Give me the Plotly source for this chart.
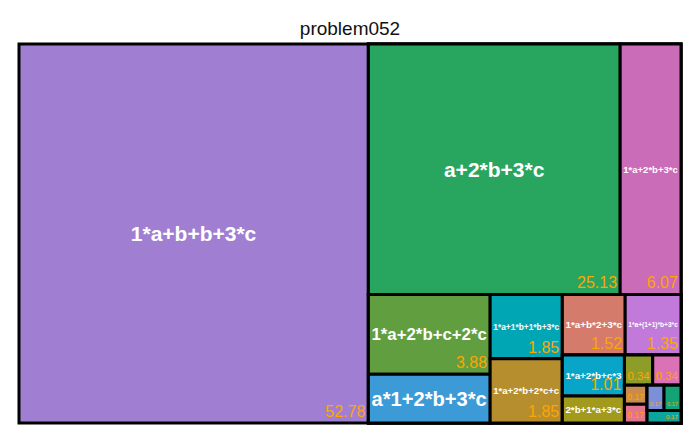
import plotly.graph_objects as go

# ---- data -------------------------------------------------------------
# leaf labels (expressions) and their shares (%)
labels = [
    "1*a+b+b+3*c", "a+2*b+3*c", "1*a+2*b+3*c",
    "1*a+2*b+c+2*c", "a*1+2*b+3*c",
    "1*a+1*b+1*b+3*c", "1*a+2*b+2*c+c",
    "1*a+b*2+3*c", "1*a+(1+1)*b+3*c",
    "1*a+2*b+c*3", "2*b+1*a+3*c",
    "other 1", "other 2",
    "other 3", "other 4",
    "other 5", "other 6",
    "other 7",
]
values = [
    52.78, 25.13, 6.07,
    3.88, 2.36,
    1.85, 1.85,
    1.52, 1.35,
    1.01, 0.67,
    0.34, 0.34,
    0.17, 0.17,
    0.17, 0.17,
    0.17,
]
# invisible layout groups (nesting that reproduces the reference tiling)
leaf_group = [
    "", "gB1", "gB1",
    "gC1", "gC1",
    "gC2", "gC2",
    "gD1", "gD1",
    "gE1", "gE1",
    "gF1", "gF1",
    "gG1", "gG1",
    "gH1", "gH1",
    "gG2",
]
groups = ["gB", "gB1", "gB2", "gC1", "gC2", "gC3", "gD1", "gD2",
          "gE1", "gE2", "gF1", "gF2", "gG1", "gG2", "gH1"]
group_parent = ["", "gB", "gB", "gB2", "gB2", "gB2", "gC3", "gC3",
                "gD2", "gD2", "gE2", "gE2", "gF2", "gF2", "gG2"]

# leaves whose label / value text is not printed in the reference
show_label = [True] * 11 + [False] * 7
show_value = [True, True, True, True, False, True, True, True, True, True,
              False] + [True] * 7

leaf_colors = [
    "#A07FD3", "#28A55F", "#CA6CB8",
    "#609E40", "#3C9AD6",
    "#00A6B4", "#B68E2E",
    "#D47B6B", "#C27ADA",
    "#08A5C8", "#A29A1C",
    "#8E9D27", "#DB72B5",
    "#C98C4D", "#E3738E",
    "#7C90DA", "#14A377",
    "#0DA59C",
]

# ---- build ------------------------------------------------------------
n = len(labels)
leaf_nodes = [
    dict(id="leaf%d" % i, label=labels[i], parent=leaf_group[i], value=values[i],
         color=leaf_colors[i],
         ltpl="%{label}" if show_label[i] else "",
         vtpl="%{value:.2f}" if show_value[i] else "")
    for i in range(n)
]
group_nodes = [
    dict(id=g, label="", parent=p, value=0, color="#000000", ltpl="", vtpl="")
    for g, p in zip(groups, group_parent)
]
# sibling order follows node order: the last leaf must come after group gH1
nodes = leaf_nodes[:-1] + group_nodes + leaf_nodes[-1:]

ids = [d["id"] for d in nodes]
all_labels = [d["label"] for d in nodes]
parents = [d["parent"] for d in nodes]
vals = [d["value"] for d in nodes]
colors = [d["color"] for d in nodes]
label_tpl = [d["ltpl"] for d in nodes]
value_tpl = [d["vtpl"] for d in nodes]

font_family = "Liberation Sans, Arial, sans-serif"
common = dict(
    ids=ids, labels=all_labels, parents=parents, values=vals,
    branchvalues="remainder", sort=False,
    tiling=dict(packing="slice-dice", pad=0),
    pathbar=dict(visible=False),
    root=dict(color="rgba(0,0,0,0)"),
)

fig = go.Figure()
fig.add_trace(go.Treemap(
    **common,
    marker=dict(colors=colors,
                line=dict(color="#000000", width=3),
                pad=dict(t=0, l=0, r=0, b=0)),
    texttemplate=label_tpl,
    textposition="middle center",
    textfont=dict(family=font_family, size=21, color="white", weight="bold"),
    hovertemplate="%{label}<br>%{value:.2f}<extra></extra>",
))
fig.add_trace(go.Treemap(
    **common,
    marker=dict(colors=["rgba(0,0,0,0)"] * len(ids),
                line=dict(color="rgba(0,0,0,0)", width=0),
                pad=dict(t=0, l=0, r=0, b=0)),
    texttemplate=value_tpl,
    textposition="bottom right",
    textfont=dict(family=font_family, size=16, color="#FFA500"),
    hoverinfo="skip",
))

fig.update_layout(
    width=700, height=433,
    margin=dict(l=19, r=19, t=44, b=10),
    paper_bgcolor="white",
    title=dict(text="problem052", x=0.5, xanchor="center",
               y=1 - 28 / 433, yanchor="middle",
               font=dict(family=font_family, size=19, color="#111111")),
)

fig.write_html("out.html")
